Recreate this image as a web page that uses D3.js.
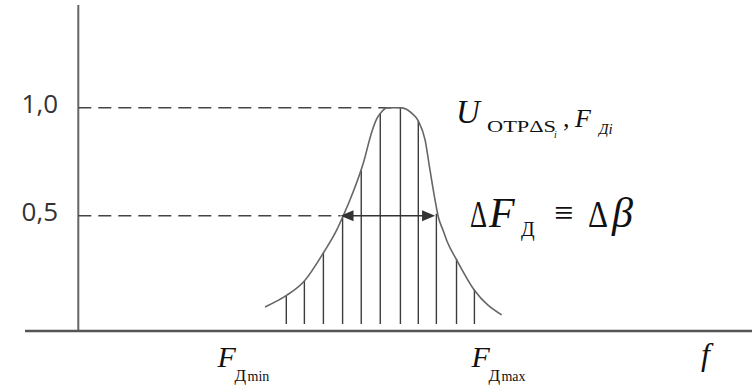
<!DOCTYPE html>
<html>
<head>
<meta charset="utf-8">
<script src="https://cdn.jsdelivr.net/npm/d3@7"></script>
<style>
  html, body { margin: 0; padding: 0; background: #fff; }
  svg { display: block; }
</style>
</head>
<body>
<svg id="chart" width="752" height="387"></svg>
<script>
// Normalised Doppler response: envelope and sampled filter outputs
const curveF = [-1.13, 0.01, 0.96, 2.0, 2.68, 3.0, 3.38, 4.09, 4.54, 4.80, 5.01, 5.33, 5.72,
                6.13, 6.66, 7.01, 7.37, 7.63, 7.90, 8.07, 8.34, 8.53, 9.05, 9.98, 11.44];
const curveU = [0.079, 0.132, 0.199, 0.333, 0.435, 0.496, 0.573, 0.744, 0.888, 0.948, 0.975, 0.999, 1.0,
                0.999, 0.975, 0.939, 0.851, 0.712, 0.573, 0.496, 0.430, 0.384, 0.296, 0.157, 0.042];

// Filter channel frequencies and their output levels
const sampleF = [0, 0.96, 1.97, 2.99, 3.98, 4.99, 6.06, 7.01, 7.97, 9.04, 9.99];
const sampleU = [0.13, 0.20, 0.33, 0.50, 0.71, 0.975, 1.0, 0.94, 0.51, 0.30, 0.16];

// Level ticks
const tickValues = [1.0, 0.5];
const tickLabels = ["1,0", "0,5"];

// Band limits at the 0,5 level and the peak frequency
const halfLevel = 0.5;
const bandEdges = [2.88, 7.90];
const peakF = 5.72;

// Frequency label anchors
const fMinAt = -3.65;
const fMaxAt = 9.83;

const svg = d3.select("#chart");

const x = d3.scaleLinear().domain([0, 10]).range([286.3, 474.6]);
const y = d3.scaleLinear().domain([0, 1]).range([324, 107.7]);

const axisX0 = 78.3;   // vertical axis position
const axisY0 = 331;    // horizontal axis position

// Axes
svg.append("line")
  .attr("x1", axisX0).attr("x2", axisX0)
  .attr("y1", 5).attr("y2", axisY0)
  .attr("stroke", "#666").attr("stroke-width", 2);
svg.append("line")
  .attr("x1", 25).attr("x2", 752)
  .attr("y1", axisY0).attr("y2", axisY0)
  .attr("stroke", "#555").attr("stroke-width", 2.5);

// Dashed reference levels
svg.append("line")
  .attr("x1", axisX0).attr("x2", x(peakF))
  .attr("y1", y(1)).attr("y2", y(1))
  .attr("stroke", "#444").attr("stroke-width", 1.5)
  .attr("stroke-dasharray", "13,7");
svg.append("line")
  .attr("x1", axisX0).attr("x2", x(bandEdges[0]))
  .attr("y1", y(halfLevel)).attr("y2", y(halfLevel))
  .attr("stroke", "#444").attr("stroke-width", 1.5)
  .attr("stroke-dasharray", "13,7");

// Tick labels
svg.selectAll("text.tick")
  .data(tickValues)
  .join("text")
  .attr("class", "tick")
  .attr("x", 58)
  .attr("y", d => y(d) + 5)
  .attr("text-anchor", "end")
  .attr("font-family", "'Open Sans', sans-serif")
  .attr("font-size", 26)
  .attr("fill", "#333")
  .text((d, i) => tickLabels[i]);

// Sample lines
svg.selectAll("line.sample")
  .data(sampleF)
  .join("line")
  .attr("class", "sample")
  .attr("x1", d => x(d)).attr("x2", d => x(d))
  .attr("y1", (d, i) => y(sampleU[i]))
  .attr("y2", y(0))
  .attr("stroke", "#3c3c3c").attr("stroke-width", 1.4);

// Envelope
const pts = curveF.map((f, i) => [f, curveU[i]]);
svg.append("path")
  .attr("d", d3.line().x(d => x(d[0])).y(d => y(d[1])).curve(d3.curveMonotoneX)(pts))
  .attr("fill", "none")
  .attr("stroke", "#666").attr("stroke-width", 1.6);

// Double-headed band arrow
const ay = y(halfLevel);
const xa = x(bandEdges[0]), xb = x(bandEdges[1]);
const headL = 13, headW = 5.5;
svg.append("line")
  .attr("x1", xa + 4).attr("x2", xb - 4)
  .attr("y1", ay).attr("y2", ay)
  .attr("stroke", "#333").attr("stroke-width", 1.5);
svg.append("path")
  .attr("d", `M${xa},${ay} L${xa + headL},${ay - headW} L${xa + headL},${ay + headW} Z`)
  .attr("fill", "#333");
svg.append("path")
  .attr("d", `M${xb},${ay} L${xb - headL},${ay - headW} L${xb - headL},${ay + headW} Z`)
  .attr("fill", "#333");

// Math-style text pieces
const serif = "'Liberation Serif', 'DejaVu Serif', serif";
function put(xp, yp, s, size, opts = {}) {
  const t = svg.append("text")
    .attr("x", xp).attr("y", yp)
    .attr("font-family", serif)
    .attr("font-size", size)
    .attr("fill", "#111")
    .attr("font-style", opts.italic ? "italic" : "normal")
    .text(s);
  if (opts.len) t.attr("textLength", opts.len).attr("lengthAdjust", "spacingAndGlyphs");
  return t;
}

// U_{OTPΔS_i}, F_{Дi}
put(456, 123, "U", 33, { italic: true });
put(487, 132, "OTPΔS", 16, { len: 69 });
put(554, 138, "i", 10, { italic: true });
put(563, 127, ",", 26);
put(575, 127, "F", 26, { italic: true });
put(599, 134, "Дi", 15, { italic: true });

// ΔF_Д ≡ Δβ
put(470, 227, "Δ", 38, { len: 17 });
put(489, 227, "F", 42, { italic: true });
put(521, 236, "Д", 20);
put(554, 224, "≡", 34);
put(588, 227, "Δ", 38, { len: 20 });
put(612, 227, "β", 42, { italic: true });

// Frequency labels
const fMinX = x(fMinAt), fMaxX = x(fMaxAt);
put(fMinX, 367, "F", 30, { italic: true });
put(fMinX + 17, 381, "Д", 17);
put(fMinX + 30, 381, "min", 14);
put(fMaxX, 367, "F", 30, { italic: true });
put(fMaxX + 17, 381, "Д", 17);
put(fMaxX + 30, 381, "max", 14);

put(701, 365, "f", 32, { italic: true });
</script>
</body>
</html>
